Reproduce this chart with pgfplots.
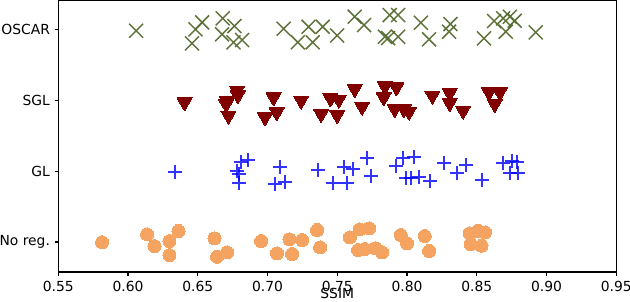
\documentclass[border=0pt]{standalone}
\usepackage{fontspec}
\setmainfont{DejaVu Sans}
\usepackage{pgfplots}
\pgfplotsset{compat=1.18}
\definecolor{olivec}{RGB}{85,107,47}
\definecolor{maroonc}{RGB}{128,0,0}
\definecolor{bluec}{RGB}{0,0,255}
\definecolor{sandyc}{RGB}{244,164,96}
\begin{document}
\begin{tikzpicture}
\begin{axis}[
  scale only axis,
  width=418.5pt, height=203.6pt,
  xmin=0.55, xmax=0.95,
  ymin=-0.424, ymax=3.416,
  xtick={0.55,0.60,0.65,0.70,0.75,0.80,0.85,0.90,0.95},
  /pgf/number format/assume math mode=true,
  xticklabel style={/pgf/number format/fixed, /pgf/number format/fixed zerofill, /pgf/number format/precision=2, yshift=-1pt},
  ytick={0,1,2,3},
  yticklabels={No reg.,GL,SGL,OSCAR},
  tick align=outside,
  xtick pos=bottom, ytick pos=left,
  major tick length=2.7pt,
  tick style={black, line width=0.8pt},
  axis line style={line width=0.8pt, black},
  tick label style={font=\fontsize{10.4pt}{12pt}\selectfont},
  xlabel={SSIM},
  xlabel style={font=\fontsize{10.4pt}{12pt}\selectfont, yshift=9.5pt},
  clip=false,
]
% OSCAR
\addplot[only marks, mark=x, mark size=7.4pt, draw=olivec, mark options={line width=1.1pt, draw=olivec, draw opacity=0.95}] coordinates {
(0.6058,2.989) (0.6459,2.810) (0.6484,3.008) (0.6531,3.107) (0.6679,3.164)
(0.6674,2.938) (0.6763,3.055) (0.6756,2.825) (0.6818,2.857) (0.7116,3.017)
(0.7217,2.825) (0.7294,3.045) (0.7324,2.825) (0.7396,3.045) (0.7499,2.921)
(0.7625,3.187) (0.7692,3.069) (0.7841,2.904) (0.7876,3.211) (0.7936,3.211)
(0.7864,2.885) (0.7936,2.904) (0.8099,3.102) (0.8158,2.867) (0.8311,3.083)
(0.8301,2.975) (0.8552,2.881) (0.8624,3.126) (0.8689,3.164) (0.8708,2.975)
(0.8737,3.187) (0.8772,3.130) (0.8923,2.966)
};
% SGL
\addplot[only marks, draw=maroonc, fill=maroonc, mark=triangle*, mark size=6.5pt, mark options={rotate=180, draw=maroonc, fill=maroonc, line width=0pt, yshift=1.6pt}] coordinates {
(0.6405,2.008) (0.6782,2.174) (0.6787,2.108) (0.6708,2.033) (0.6703,1.984)
(0.6720,1.820) (0.7043,2.079) (0.6982,1.796) (0.7066,1.867) (0.7241,2.033)
(0.7451,2.065) (0.7511,2.047) (0.7384,1.843) (0.7499,1.829) (0.7625,2.197)
(0.7678,1.948) (0.7841,2.235) (0.7924,2.221) (0.7833,2.079) (0.7912,1.914)
(0.7977,1.914) (0.8015,1.877) (0.8182,2.103) (0.8306,2.140) (0.8306,1.999)
(0.8402,1.891) (0.8588,2.150) (0.8665,2.150) (0.8629,1.984)
};
% GL
\addplot[only marks, draw=bluec, mark=+, mark size=5.25pt, mark options={line width=1.5pt, draw=bluec, draw opacity=0.8}] coordinates {
(0.6340,0.994) (0.6858,1.160) (0.6810,1.136) (0.6780,1.004) (0.6799,0.958)
(0.6794,0.830) (0.7086,1.065) (0.7122,0.853) (0.7057,0.816) (0.7360,1.018)
(0.7468,0.839) (0.7547,1.057) (0.7568,0.830) (0.7613,1.033) (0.7716,1.184)
(0.7745,0.938) (0.7919,1.079) (0.7972,1.192) (0.8048,1.207) (0.7991,0.909)
(0.8027,0.901) (0.8086,0.924) (0.8168,0.863) (0.8263,1.113) (0.8355,0.980)
(0.8421,1.089) (0.8534,0.877) (0.8689,1.122) (0.8749,1.150) (0.8789,1.136)
(0.8737,0.972) (0.8792,0.980)
};
% No reg.
\addplot[only marks, draw=sandyc, fill=sandyc, mark=*, mark size=4.9pt, mark options={fill=sandyc, draw=sandyc, line width=0pt}] coordinates {
(0.5814,-0.004) (0.6137,0.109) (0.6190,-0.057) (0.6297,0.014) (0.6362,0.156)
(0.6297,-0.184) (0.6620,0.052) (0.6638,-0.208) (0.6710,-0.146) (0.6954,0.014)
(0.7068,-0.160) (0.7157,0.038) (0.7176,-0.170) (0.7248,0.028) (0.7355,0.170)
(0.7377,-0.075) (0.7590,0.066) (0.7661,0.180) (0.7728,0.194) (0.7649,-0.113)
(0.7697,-0.099) (0.7774,-0.089) (0.7821,-0.146) (0.7955,0.099) (0.8000,-0.018)
(0.8127,0.085) (0.8158,-0.127) (0.8450,0.123) (0.8509,0.156) (0.8559,0.137)
(0.8457,-0.033) (0.8534,-0.052)
};
\end{axis}
\pgfresetboundingbox
\path ([xshift=-43.7pt,yshift=-21.75pt]current axis.south west) rectangle ([xshift=10.3pt,yshift=0.4pt]current axis.north east);
\end{tikzpicture}
\end{document}
